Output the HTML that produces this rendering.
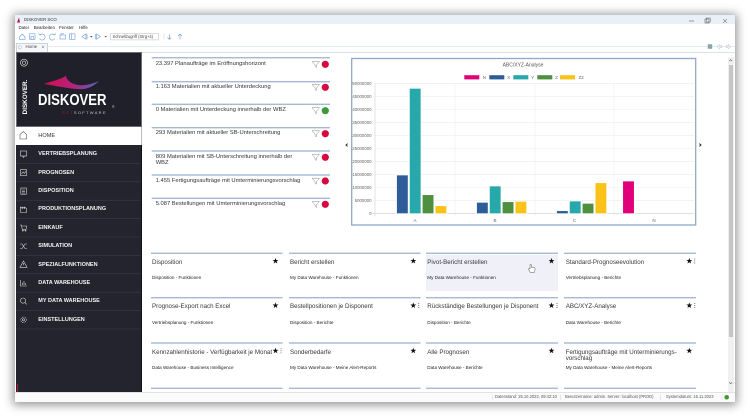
<!DOCTYPE html>
<html><head><meta charset="utf-8"><style>
*{margin:0;padding:0;box-sizing:border-box}
html,body{width:750px;height:418px;overflow:hidden;background:#fff;font-family:"Liberation Sans",Arial,sans-serif}
.a{position:absolute}
.t{position:absolute;white-space:nowrap;height:10px;line-height:10px}
.kp{font-size:5.8px;color:#333}
.mi{font-size:5.5px;color:#f5f5f5;font-weight:bold;left:38.3px}
.tt{font-size:6.2px;color:#383838}
.ts{font-size:4.6px;color:#222}
.mn{font-size:4.4px;color:#222}
.sb{font-size:4.1px;color:#555}
</style></head><body>
<!-- window -->
<div class="a" style="left:15px;top:15px;width:720px;height:387px;background:#fff;box-shadow:0 1px 9px 2px rgba(0,0,0,0.42)"></div>
<div class="a" style="left:15px;top:15px;width:720px;height:9px;background:#eaf0f8"></div>
<div class="a" style="left:15px;top:46px;width:720px;height:0.6px;background:#e6ecf4"></div>
<div class="a" style="left:142px;top:51.5px;width:593px;height:0.8px;background:#dbe2ec"></div>
<!-- tab -->
<div class="a" style="left:16px;top:43px;width:31.5px;height:8.5px;background:#f5f7fa;border:0.7px solid #c9d1dc;border-bottom:none"></div>
<!-- sidebar -->
<div class="a" style="left:16px;top:52px;width:126px;height:75px;background:#1f2029;border:0.7px solid #6b6c74"></div>
<div class="a" style="left:16px;top:127px;width:126px;height:18px;background:#fff;border-right:0.7px solid #bbb"></div>
<div class="a" style="left:16px;top:145px;width:126px;height:247px;background:#23242e;border-right:0.8px solid #111"></div>
<div class="a" style="left:16.5px;top:384px;width:1.3px;height:8px;background:#c0143c"></div>
<!-- status bar -->
<div class="a" style="left:15px;top:392px;width:720px;height:10px;background:#fbfbfb;border-top:0.6px solid #e2e2e2"></div>
<!-- scrollbar -->
<div class="a" style="left:728px;top:57px;width:5.5px;height:335px;background:#f0f0f0"></div>
<div class="a" style="left:728.5px;top:65px;width:4.5px;height:272px;background:#c6c6c6"></div>
<!-- hover tile -->
<div class="a" style="left:426px;top:254.5px;width:132px;height:36.5px;background:#f0f0f8"></div>

<svg class="a" style="left:0;top:0" width="750" height="418" viewBox="0 0 750 418">
<defs>
<linearGradient id="sw" x1="0" x2="1" y1="0" y2="0"><stop offset="0" stop-color="#d0104a"/><stop offset="0.5" stop-color="#b8207a"/><stop offset="1" stop-color="#4f64b8"/></linearGradient>
<polygon id="star" points="0,-3.1 0.735,-1.011 2.948,-0.958 1.189,0.386 1.822,2.508 0,1.25 -1.822,2.508 -1.189,0.386 -2.948,-0.958 -0.735,-1.011" fill="#111"/>
<g id="keb" fill="#333"><circle cx="0" cy="-2" r="0.45"/><circle cx="0" cy="0" r="0.45"/><circle cx="0" cy="2" r="0.45"/></g>
</defs>
<!-- title icon -->
<path d="M17,22.5 L19,17.5 L20,22.5 Z" fill="#b0154a"/>
<!-- window controls -->
<line x1="689" y1="21" x2="694" y2="21" stroke="#444" stroke-width="0.5"/>
<rect x="705" y="19" width="4" height="4" fill="none" stroke="#444" stroke-width="0.5"/>
<rect x="706.3" y="18" width="4" height="4" fill="none" stroke="#444" stroke-width="0.4"/>
<path d="M723,19 L727,23 M727,19 L723,23" stroke="#444" stroke-width="0.5"/>
<!-- toolbar icons -->
<g fill="none" stroke="#6d9bd6" stroke-width="0.6">
<path d="M19.5,37 L22.3,34 L25,37 L25,39.3 L19.5,39.3 Z"/>
<rect x="29.5" y="33.8" width="5.5" height="5.5"/><rect x="31" y="36.5" width="2.5" height="2.8"/>
<path d="M40,35 A3,3 0 1 1 39.5,38.5"/><path d="M38.5,33.5 L40,35 L41.8,34"/>
<path d="M54.5,35 A3,3 0 1 0 55,38.5"/><path d="M56,33.5 L54.5,35 L52.8,34"/>
<rect x="60" y="35" width="5.5" height="4"/><path d="M61,35 L61,33.8 L64,33.8"/>
<rect x="69.5" y="33.8" width="5.5" height="5.5"/><line x1="71.5" y1="33.8" x2="71.5" y2="39.3"/>
<path d="M86,34 L82,36.6 L86,39.2 Z"/><line x1="87" y1="34" x2="87" y2="39.2"/>
<path d="M96.5,34 L100.5,36.6 L96.5,39.2 Z"/><line x1="95.5" y1="34" x2="95.5" y2="39.2"/>
<path d="M169.3,34 L169.3,39.5 M167.3,37.5 L169.3,39.5 L171.3,37.5"/>
<path d="M180,39.5 L180,34 M178,36 L180,34 L182,36"/>
</g>
<path d="M90,36 L92.6,36 L91.3,37.5 Z M104.4,36 L107,36 L105.7,37.5 Z" fill="#555"/>
<rect x="110.7" y="33.3" width="47.6" height="6.6" fill="#fff" stroke="#bbb" stroke-width="0.5"/>
<line x1="164" y1="33.5" x2="164" y2="39.5" stroke="#ccc" stroke-width="0.5"/>
<!-- tab icon and close -->
<circle cx="19.8" cy="47.2" r="1.6" fill="none" stroke="#aaa" stroke-width="0.5"/>
<path d="M41.8,45.7 L44.2,48.1 M44.2,45.7 L41.8,48.1" stroke="#666" stroke-width="0.5"/>
<!-- right top icons -->
<rect x="708" y="44.5" width="4" height="4" fill="#8aa" stroke="#778" stroke-width="0.3"/>
<path d="M717,46.7 L719.5,44.5 L719.5,45.8 L722,45.8 L722,47.6 L719.5,47.6 L719.5,48.9 Z" fill="none" stroke="#bbb" stroke-width="0.5"/>
<path d="M731,46.7 L728.5,44.5 L728.5,45.8 L726,45.8 L726,47.6 L728.5,47.6 L728.5,48.9 Z" fill="none" stroke="#bbb" stroke-width="0.5"/>
<!-- scrollbar arrows -->
<path d="M729.2,61.2 L730.7,59.7 L732.2,61.2" fill="none" stroke="#555" stroke-width="0.6"/>
<path d="M729.2,382.3 L730.7,383.8 L732.2,382.3" fill="none" stroke="#555" stroke-width="0.6"/>
<!-- logo -->
<circle cx="24" cy="62.7" r="3.5" fill="none" stroke="#ddd" stroke-width="0.7"/>
<circle cx="24" cy="62.7" r="1.6" fill="none" stroke="#ddd" stroke-width="0.6"/>
<path d="M44,84 C52,81 60,80 66,75.8 C66.5,80 71,84.5 80,85.2 C88,85.5 94,83 99,81 C94,86 88,89.2 80.5,89.2 C70,89 57,86 44,84 Z" fill="url(#sw)"/>
<!-- home icon -->
<path d="M20,137.5 L20,134.5 L23.3,131.5 L26.6,134.5 L26.6,139 L20,139 Z" fill="none" stroke="#555" stroke-width="0.6"/>
<!-- sidebar separators -->
<g stroke="#3a3b46" stroke-width="0.6">
<line x1="16" y1="163.4" x2="141" y2="163.4"/><line x1="16" y1="181.8" x2="141" y2="181.8"/>
<line x1="16" y1="200.2" x2="141" y2="200.2"/><line x1="16" y1="218.6" x2="141" y2="218.6"/>
<line x1="16" y1="237" x2="141" y2="237"/><line x1="16" y1="255.4" x2="141" y2="255.4"/>
<line x1="16" y1="273.8" x2="141" y2="273.8"/><line x1="16" y1="292.2" x2="141" y2="292.2"/>
<line x1="16" y1="310.6" x2="141" y2="310.6"/><line x1="16" y1="329" x2="141" y2="329"/>
</g>
<!-- sidebar icons -->
<g fill="none" stroke="#d8d8d8" stroke-width="0.6">
<rect x="20.5" y="151" width="6" height="5"/><path d="M22.5,156 L23.5,157.5 L24.5,156"/>
<rect x="20.5" y="169.6" width="6" height="6"/><path d="M21.5,174 L23,172 L24.5,173.3 L26,171"/>
<rect x="20.8" y="188" width="5.5" height="6.2"/><path d="M22,190 L25,190 M22,191.6 L25,191.6 M22,193 L25,193"/>
<path d="M20.5,212.5 L20.5,207 L22.5,208.5 L22.5,207 L24.5,208.5 L24.5,207 L26.5,208.5 L26.5,212.5 Z"/>
<path d="M20,225 L21.3,225 L22.3,229.3 L26,229.3 L26.7,226 L21.8,226"/><circle cx="22.8" cy="230.6" r="0.5"/><circle cx="25.5" cy="230.6" r="0.5"/>
<path d="M20,244 L22,244 L25,248.5 L27,248.5 M20,248.5 L22,248.5 L25,244 L27,244"/>
<path d="M23.5,261 L27,267.3 L20,267.3 Z"/><line x1="23.5" y1="263" x2="23.5" y2="265.3"/>
<path d="M20.5,280 L20.5,286 L27,286 M22.3,285 L22.3,282.5 M24,285 L24,281 M25.6,285 L25.6,283"/>
<circle cx="23" cy="300.6" r="2.6"/><line x1="24.9" y1="302.5" x2="26.8" y2="304.4"/>
<circle cx="23.5" cy="319.8" r="2.8" stroke-dasharray="1 0.6"/><circle cx="23.5" cy="319.8" r="1.1"/>
</g>
<!-- KPI lines -->
<g fill="#a6bad6">
<rect x="151.7" y="57" width="178.3" height="1.4"/><rect x="151.7" y="81" width="178.3" height="1.4"/>
<rect x="151.7" y="103.6" width="178.3" height="1.4"/><rect x="151.7" y="127" width="178.3" height="1.4"/>
<rect x="151.7" y="150.3" width="178.3" height="1.4"/><rect x="151.7" y="174.3" width="178.3" height="1.4"/>
<rect x="151.7" y="197.6" width="178.3" height="1.4"/>
</g>
<g fill="none" stroke="#8a8a8a" stroke-width="0.5">
<path d="M312,61.5 L319.5,61.5 L316.4,65 L316.4,67.5 L315.1,66.6 L315.1,65 Z"/>
<path d="M312,84.5 L319.5,84.5 L316.4,88 L316.4,90.5 L315.1,89.6 L315.1,88 Z"/>
<path d="M312,107.7 L319.5,107.7 L316.4,111.2 L316.4,113.7 L315.1,112.8 L315.1,111.2 Z"/>
<path d="M312,130.8 L319.5,130.8 L316.4,134.3 L316.4,136.8 L315.1,135.9 L315.1,134.3 Z"/>
<path d="M312,154.5 L319.5,154.5 L316.4,158 L316.4,160.5 L315.1,159.6 L315.1,158 Z"/>
<path d="M312,178.2 L319.5,178.2 L316.4,181.7 L316.4,184.2 L315.1,183.3 L315.1,181.7 Z"/>
<path d="M312,201.5 L319.5,201.5 L316.4,205 L316.4,207.5 L315.1,206.6 L315.1,205 Z"/>
</g>
<circle cx="325.3" cy="64.3" r="3.6" fill="#d6083d"/>
<circle cx="325.3" cy="87.3" r="3.6" fill="#d6083d"/>
<circle cx="325.3" cy="110.7" r="3.6" fill="#3b9a3a"/>
<circle cx="325.3" cy="133.7" r="3.6" fill="#d6083d"/>
<circle cx="325.3" cy="157.3" r="3.6" fill="#d6083d"/>
<circle cx="325.3" cy="181" r="3.6" fill="#d6083d"/>
<circle cx="325.3" cy="204.3" r="3.6" fill="#d6083d"/>
<!-- chevrons -->
<path d="M347.6,143.6 L346,145 L347.6,146.4" fill="none" stroke="#222" stroke-width="0.9"/>
<path d="M699.4,143.6 L701,145 L699.4,146.4" fill="none" stroke="#222" stroke-width="0.9"/>
<!-- chart -->
<rect x="351.7" y="58.5" width="344" height="166.5" fill="#fff" stroke="#8fa7ca" stroke-width="1.3"/>
<text x="523" y="66.7" font-size="5" fill="#555" text-anchor="middle" font-family="Liberation Sans, sans-serif">ABC/XYZ-Analyse</text>
<g font-family="Liberation Sans, sans-serif" font-size="4.5" fill="#666">
<rect x="464.3" y="75.2" width="15" height="4.2" fill="#e2007a"/><text x="482.8" y="78.9">N</text>
<rect x="489.3" y="75.2" width="15" height="4.2" fill="#2d5c99"/><text x="507.3" y="78.9">X</text>
<rect x="513.3" y="75.2" width="15" height="4.2" fill="#27a9ab"/><text x="531.3" y="78.9">Y</text>
<rect x="537.3" y="75.2" width="15" height="4.2" fill="#4e9040"/><text x="555.3" y="78.9">Z</text>
<rect x="560" y="75.2" width="15" height="4.2" fill="#fbc21a"/><text x="578.5" y="78.9">Z2</text>
</g>
<g stroke="#ececec" stroke-width="0.6">
<line x1="375" y1="200.66" x2="694" y2="200.66"/><line x1="375" y1="187.62" x2="694" y2="187.62"/>
<line x1="375" y1="174.58" x2="694" y2="174.58"/><line x1="375" y1="161.54" x2="694" y2="161.54"/>
<line x1="375" y1="148.5" x2="694" y2="148.5"/><line x1="375" y1="135.46" x2="694" y2="135.46"/>
<line x1="375" y1="122.42" x2="694" y2="122.42"/><line x1="375" y1="109.38" x2="694" y2="109.38"/>
<line x1="375" y1="96.34" x2="694" y2="96.34"/><line x1="375" y1="83.3" x2="694" y2="83.3"/>
<line x1="455" y1="83.3" x2="455" y2="216.5"/><line x1="535" y1="83.3" x2="535" y2="216.5"/>
<line x1="614" y1="83.3" x2="614" y2="216.5"/>
</g>
<line x1="375" y1="83.3" x2="375" y2="216.5" stroke="#d0d0d0" stroke-width="0.6"/>
<line x1="372" y1="213.7" x2="694" y2="213.7" stroke="#cfcfcf" stroke-width="0.7"/>
<g font-family="Liberation Sans, sans-serif" font-size="4.3" fill="#666" text-anchor="end">
<text x="371.5" y="215.2">0</text><text x="371.5" y="202.2">5000000</text>
<text x="371.5" y="189.1">10000000</text><text x="371.5" y="176.1">15000000</text>
<text x="371.5" y="163">20000000</text><text x="371.5" y="150">25000000</text>
<text x="371.5" y="137">30000000</text><text x="371.5" y="123.9">35000000</text>
<text x="371.5" y="110.9">40000000</text><text x="371.5" y="97.8">45000000</text>
<text x="371.5" y="84.8">50000000</text>
</g>
<g font-family="Liberation Sans, sans-serif" font-size="4.5" fill="#666" text-anchor="middle">
<text x="415" y="222">A</text><text x="495" y="222">B</text><text x="574.5" y="222">C</text><text x="654" y="222">N</text>
</g>
<g stroke="#fff" stroke-width="0.7">
<rect x="396.55" y="175" width="11.6" height="38.7" fill="#2d5c99"/>
<rect x="409.4" y="88.3" width="11.6" height="125.4" fill="#27a9ab"/>
<rect x="422.25" y="194.7" width="11.6" height="19" fill="#4e9040"/>
<rect x="435.1" y="205.7" width="11.6" height="8" fill="#fbc21a"/>
<rect x="476.55" y="202.3" width="11.6" height="11.4" fill="#2d5c99"/>
<rect x="489.4" y="186" width="11.6" height="27.7" fill="#27a9ab"/>
<rect x="502.25" y="201.7" width="11.6" height="12" fill="#4e9040"/>
<rect x="515.1" y="201.3" width="11.6" height="12.4" fill="#fbc21a"/>
<rect x="556.55" y="210.7" width="11.6" height="3" fill="#2d5c99"/>
<rect x="569.4" y="201" width="11.6" height="12.7" fill="#27a9ab"/>
<rect x="582.25" y="203.3" width="11.6" height="10.4" fill="#4e9040"/>
<rect x="595.1" y="182.7" width="11.6" height="31" fill="#fbc21a"/>
<rect x="622.7" y="181" width="11.6" height="32.7" fill="#e2007a"/>
</g>
<!-- tile lines -->
<g fill="#a6bad6">
<rect x="151" y="252.6" width="131.5" height="1.4"/><rect x="289" y="252.6" width="131.5" height="1.4"/>
<rect x="426" y="252.6" width="132" height="1.4"/><rect x="564" y="252.6" width="132" height="1.4"/>
<rect x="151" y="297" width="131.5" height="1.4"/><rect x="289" y="297" width="131.5" height="1.4"/>
<rect x="426" y="297" width="132" height="1.4"/><rect x="564" y="297" width="132" height="1.4"/>
<rect x="151" y="342.3" width="131.5" height="1.4"/><rect x="289" y="342.3" width="131.5" height="1.4"/>
<rect x="426" y="342.3" width="132" height="1.4"/><rect x="564" y="342.3" width="132" height="1.4"/>
<rect x="151" y="387.6" width="131.5" height="1.4"/><rect x="289" y="387.6" width="131.5" height="1.4"/>
<rect x="426" y="387.6" width="132" height="1.4"/><rect x="564" y="387.6" width="132" height="1.4"/>
</g>
<!-- stars -->
<use href="#star" x="275.5" y="261"/>
<use href="#star" x="413.3" y="261"/>
<use href="#star" x="551.5" y="261"/>
<use href="#star" x="689.3" y="261"/><use href="#keb" x="694.8" y="261"/>
<use href="#star" x="275.5" y="305.5"/>
<use href="#star" x="413.3" y="305.5"/><use href="#keb" x="418.8" y="305.5"/>
<use href="#star" x="551.5" y="305.5"/><use href="#keb" x="557" y="305.5"/>
<use href="#star" x="689.3" y="305.5"/><use href="#keb" x="694.8" y="305.5"/>
<use href="#star" x="275.5" y="350.8"/><use href="#keb" x="281" y="350.8"/>
<use href="#star" x="413.3" y="350.8"/>
<use href="#star" x="551.5" y="350.8"/>
<use href="#star" x="689.3" y="350.8"/>
<!-- cursor hand -->
<path d="M530,264.5 L530,269 L529,268.3 L528.3,269 L530.3,272.5 L534.3,272.5 L535,270 L535,268 L533.8,267.6 L532.6,267.5 L531.3,267.4 L531.3,264.5 Z" fill="#fff" stroke="#444" stroke-width="0.45"/>
<!-- status separators -->
<g stroke="#cfcfcf" stroke-width="0.5">
<line x1="492.7" y1="394.5" x2="492.7" y2="400"/><line x1="560.3" y1="394.5" x2="560.3" y2="400"/>
<line x1="660.5" y1="394.5" x2="660.5" y2="400"/><line x1="722" y1="394.5" x2="722" y2="400"/>
</g>
<circle cx="726.7" cy="397.3" r="2.3" fill="#3c9c2c"/>
</svg>

<!-- top texts -->
<div class="t" style="left:24px;top:15px;font-size:4.3px;color:#333">DISKOVER SCO</div>
<div class="t mn" style="left:18.5px;top:23px">Datei</div>
<div class="t mn" style="left:33.7px;top:23px">Bearbeiten</div>
<div class="t mn" style="left:59px;top:23px">Fenster</div>
<div class="t mn" style="left:79px;top:23px">Hilfe</div>
<div class="t" style="left:112.5px;top:31.6px;font-size:4.1px;color:#444">Schnellzugriff (Strg+4)</div>
<div class="t" style="left:25.5px;top:42px;font-size:4.4px;color:#444">Home</div>

<!-- logo texts -->
<div class="t" style="left:4.7px;top:92px;width:42px;text-align:center;font-size:6.3px;font-weight:bold;color:#fff;transform:rotate(-90deg);transform-origin:21px 5px">DISKOVER.</div>
<div class="t" style="left:37.5px;top:93px;height:16px;line-height:16px;font-size:16px;font-weight:bold;color:#fff;transform:scaleX(0.82);transform-origin:0 0">DISKOVER</div>
<div class="t" style="left:112px;top:101.5px;font-size:3.5px;color:#ccc">®</div>
<div class="t" style="left:62px;top:108.3px;font-size:4px;letter-spacing:1.3px;color:#c9c9c9"><span style="color:#c0143c">SCT</span>SOFTWARE</div>

<!-- sidebar texts -->
<div class="t" style="left:38.3px;top:130.7px;font-size:5.6px;color:#333">HOME</div>
<div class="t mi" style="top:149.2px">VERTRIEBSPLANUNG</div>
<div class="t mi" style="top:167.6px">PROGNOSEN</div>
<div class="t mi" style="top:186px">DISPOSITION</div>
<div class="t mi" style="top:204.4px">PRODUKTIONSPLANUNG</div>
<div class="t mi" style="top:222.8px">EINKAUF</div>
<div class="t mi" style="top:241.2px">SIMULATION</div>
<div class="t mi" style="top:259.6px">SPEZIALFUNKTIONEN</div>
<div class="t mi" style="top:278px">DATA WAREHOUSE</div>
<div class="t mi" style="top:296.4px">MY DATA WAREHOUSE</div>
<div class="t mi" style="top:314.8px">EINSTELLUNGEN</div>

<!-- KPI texts -->
<div class="t kp" style="left:155.7px;top:59px">23.397 Planaufträge im Eröffnungshorizont</div>
<div class="t kp" style="left:155.7px;top:82.3px">1.163 Materialien mit aktueller Unterdeckung</div>
<div class="t kp" style="left:155.7px;top:105.3px">0 Materialien mit Unterdeckung innerhalb der WBZ</div>
<div class="t kp" style="left:155.7px;top:128.3px">293 Materialien mit aktueller SB-Unterschreitung</div>
<div class="t kp" style="left:155.7px;top:152px">809 Materialien mit SB-Unterschreitung innerhalb der</div>
<div class="t kp" style="left:155.7px;top:158.3px">WBZ</div>
<div class="t kp" style="left:155.7px;top:176px">1.455 Fertigungsaufträge mit Umterminierungsvorschlag</div>
<div class="t kp" style="left:155.7px;top:199px">5.087 Bestellungen mit Umterminierungsvorschlag</div>

<!-- tiles row 1 -->
<div class="t tt" style="left:152px;top:257.7px">Disposition</div>
<div class="t ts" style="left:152px;top:273.3px">Disposition - Funktionen</div>
<div class="t tt" style="left:290px;top:257.7px">Bericht erstellen</div>
<div class="t ts" style="left:290px;top:273.3px">My Data Warehouse - Funktionen</div>
<div class="t tt" style="left:427.3px;top:257.7px">Pivot-Bericht erstellen</div>
<div class="t ts" style="left:427.3px;top:273.3px">My Data Warehouse - Funktionen</div>
<div class="t tt" style="left:565.7px;top:257.7px">Standard-Prognoseevolution</div>
<div class="t ts" style="left:565.7px;top:273.3px">Vertriebsplanung - Berichte</div>
<!-- row 2 -->
<div class="t tt" style="left:152px;top:302.3px">Prognose-Export nach Excel</div>
<div class="t ts" style="left:152px;top:318px">Vertriebsplanung - Funktionen</div>
<div class="t tt" style="left:290px;top:302.3px">Bestellpositionen je Disponent</div>
<div class="t ts" style="left:290px;top:318px">Disposition - Berichte</div>
<div class="t tt" style="left:427.3px;top:302.3px">Rückständige Bestellungen je Disponent</div>
<div class="t ts" style="left:427.3px;top:318px">Disposition - Berichte</div>
<div class="t tt" style="left:565.7px;top:302.3px">ABC/XYZ-Analyse</div>
<div class="t ts" style="left:565.7px;top:318px">Data Warehouse - Berichte</div>
<!-- row 3 -->
<div class="t tt" style="left:152px;top:347.7px">Kennzahlenhistorie - Verfügbarkeit je Monat</div>
<div class="t ts" style="left:152px;top:363.3px">Data Warehouse - Business Intelligence</div>
<div class="t tt" style="left:290px;top:347.7px">Sonderbedarfe</div>
<div class="t ts" style="left:290px;top:363.3px">My Data Warehouse - Meine Alert-Reports</div>
<div class="t tt" style="left:427.3px;top:347.7px">Alle Prognosen</div>
<div class="t ts" style="left:427.3px;top:363.3px">Data Warehouse - Berichte</div>
<div class="t tt" style="left:565.7px;top:347.7px">Fertigungsaufträge mit Unterminierungs-</div>
<div class="t tt" style="left:565.7px;top:354.3px">vorschlag</div>
<div class="t ts" style="left:565.7px;top:363.3px">My Data Warehouse - Meine Alert-Reports</div>

<!-- status texts -->
<div class="t sb" style="left:495px;top:392.3px">Datenstand: 25.10.2023, 09:42:10</div>
<div class="t sb" style="left:565px;top:392.3px">Benutzername: admin. Server: localhost (PROD)</div>
<div class="t sb" style="left:666px;top:392.3px">Systemdatum: 16.11.2023</div>
</body></html>
